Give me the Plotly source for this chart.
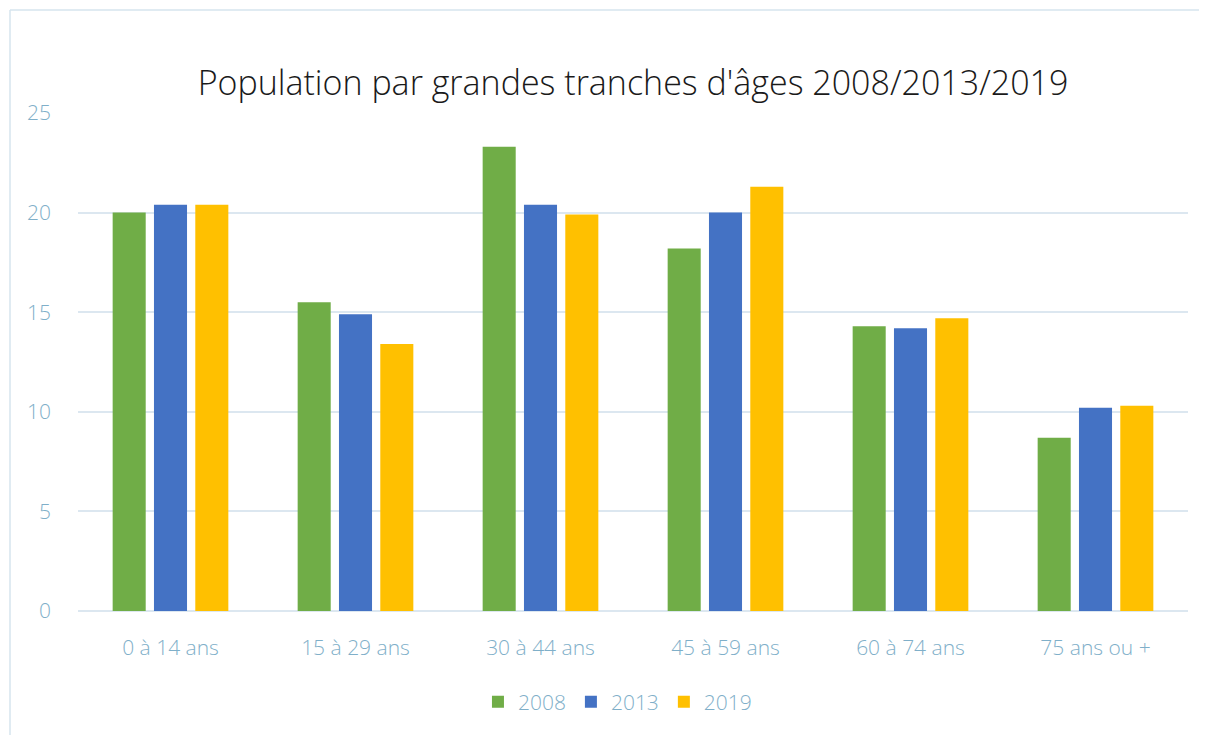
import plotly.graph_objects as go

categories = ['0 à 14 ans', '15 à 29 ans', '30 à 44 ans', '45 à 59 ans', '60 à 74 ans', '75 ans ou +']
years = ['2008', '2013', '2019']
values_2008 = [20.0, 15.5, 23.3, 18.2, 14.3, 8.7]
values_2013 = [20.4, 14.9, 20.4, 20.0, 14.2, 10.2]
values_2019 = [20.4, 13.4, 19.9, 21.3, 14.7, 10.3]
y_ticks = [0, 5, 10, 15, 20, 25]

colors = ['#70AD47', '#4472C4', '#FFC000']
series = [values_2008, values_2013, values_2019]

label_color = '#7FAFC9'
grid_color = '#DCE7F0'
frame_color = '#D6E4EE'
font_family = 'Open Sans'

# plot area (figure coords)
left, top, plot_w, plot_h = 70, 105, 1110, 498

fig = go.Figure()
for year, vals, col in zip(years, series, colors):
    fig.add_trace(go.Bar(
        x=categories,
        y=vals,
        name=year,
        marker=dict(color=col, line=dict(width=0)),
    ))

# light frame (top and left edges) around the chart area
frame_x0 = (2 - left) / plot_w
frame_x1 = (1300 - left) / plot_w
frame_y1 = (top + plot_h - 2) / plot_h
fig.add_shape(type='line', xref='paper', yref='paper',
              x0=frame_x0, x1=frame_x1, y0=frame_y1, y1=frame_y1,
              line=dict(color=frame_color, width=1.5), layer='below')
fig.add_shape(type='line', xref='paper', yref='paper',
              x0=frame_x0, x1=frame_x0, y0=-0.4, y1=frame_y1,
              line=dict(color=frame_color, width=1.5), layer='below')

fig.update_layout(
    width=1207,
    height=735,
    paper_bgcolor='white',
    plot_bgcolor='white',
    barmode='group',
    bargap=0.33,
    bargroupgap=0.2,
    margin=dict(l=left, r=1207 - left - plot_w, t=top, b=735 - top - plot_h),
    font=dict(family=font_family, color=label_color, size=20),
    title=dict(
        text="Population par grandes tranches d'âges 2008/2013/2019",
        font=dict(family=font_family, size=34, color='#1a1a1a', weight=300),
        x=0.5,
        xref='paper',
        xanchor='center',
        y=1 - 75 / 735,
        yref='container',
        yanchor='middle',
    ),
    legend=dict(
        orientation='h',
        x=0.486,
        xanchor='center',
        y=-0.142,
        yanchor='top',
        font=dict(family=font_family, size=21, color=label_color, weight=300),
        traceorder='normal',
    ),
)

fig.update_yaxes(
    range=[0, 25],
    tickvals=y_ticks,
    showgrid=True,
    gridcolor=grid_color,
    gridwidth=2,
    zeroline=True,
    zerolinecolor=grid_color,
    zerolinewidth=2,
    showline=False,
    ticks='',
    ticklabelstandoff=26,
    tickfont=dict(family=font_family, size=21, color=label_color, weight=300),
)
fig.update_xaxes(
    showgrid=False,
    showline=False,
    ticks='',
    ticklabelstandoff=22,
    tickfont=dict(family=font_family, size=21, color=label_color, weight=300),
)

fig.write_html('out.html')
